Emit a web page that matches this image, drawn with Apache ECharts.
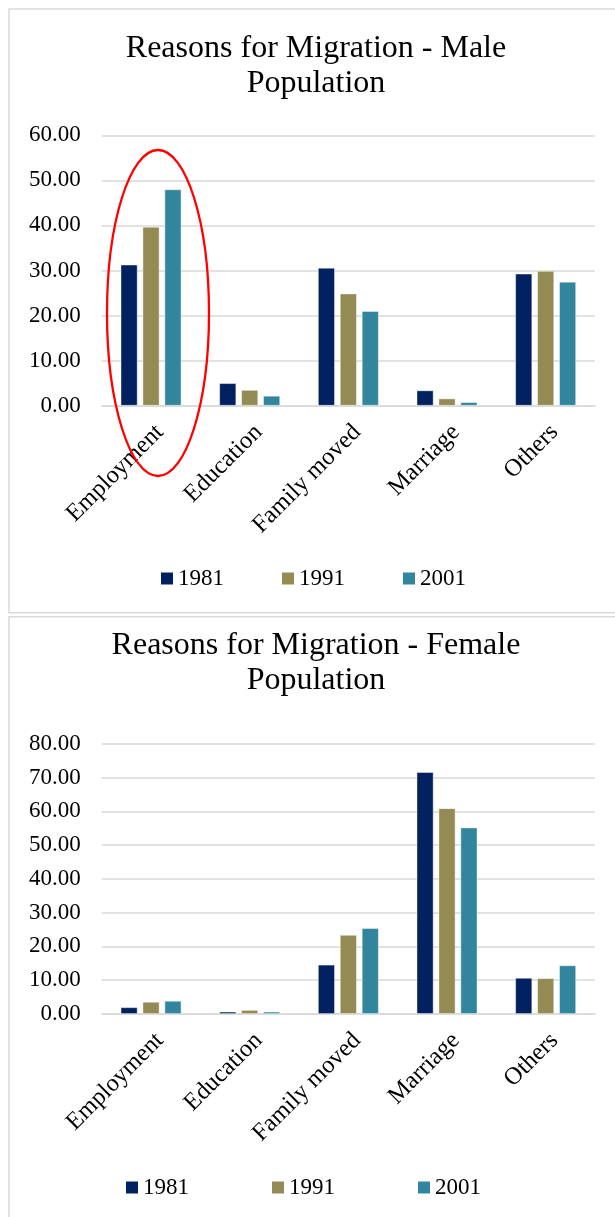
<!DOCTYPE html>
<html>
<head>
<meta charset="utf-8">
<script src="https://cdn.jsdelivr.net/npm/echarts@6/dist/echarts.min.js"></script>
<style>
html,body{margin:0;padding:0;background:#fff;overflow:hidden;}
#c{width:615px;height:1217px;}
</style>
</head>
<body>
<div id="c"></div>
<script>
const categories = ['Employment', 'Education', 'Family moved', 'Marriage', 'Others'];
const years = ['1981', '1991', '2001'];
const male1981 = [31.3, 5.0, 30.6, 3.4, 29.3];
const male1991 = [39.7, 3.5, 24.9, 1.6, 29.9];
const male2001 = [48.0, 2.2, 21.0, 0.8, 27.5];
const female1981 = [2.0, 0.7, 14.6, 71.6, 10.7];
const female1991 = [3.6, 1.2, 23.4, 60.9, 10.6];
const female2001 = [3.9, 0.7, 25.4, 55.2, 14.4];
const maleTicks = [0, 60, 10];   // min, max, interval
const femaleTicks = [0, 80, 10];

const colors = ['#002060', '#948A54', '#31859C'];
const FONT = "'Liberation Serif', 'Times New Roman', serif";

const chart = echarts.init(document.getElementById('c'), null, {renderer: 'canvas'});

function xAxis(gi) {
  return {
    type: 'category', gridIndex: gi, data: categories,
    axisLine: {lineStyle: {color: '#d9d9d9', width: 1.5}},
    axisTick: {show: false},
    axisLabel: {rotate: 45, margin: 14, verticalAlign: 'top', fontFamily: FONT, fontSize: 24.5, color: '#000', interval: 0}
  };
}
function yAxis(gi, t) {
  return {
    type: 'value', gridIndex: gi, min: t[0], max: t[1], interval: t[2],
    axisLine: {show: false}, axisTick: {show: false},
    splitLine: {lineStyle: {color: '#d9d9d9', width: 1.5}},
    axisLabel: {margin: 21, fontFamily: FONT, fontSize: 23, color: '#000', formatter: v => v.toFixed(2)}
  };
}
function bar(name, data, gi, ci) {
  return {
    type: 'bar', name: name, data: data, xAxisIndex: gi, yAxisIndex: gi,
    barWidth: 17, barGap: '29%',
    itemStyle: {color: colors[ci], borderColor: 'rgba(255,255,255,0.55)', borderWidth: 0.8},
    emphasis: {disabled: true}
  };
}
function legend(left, top, gap) {
  return {
    left: left, top: top, padding: 0, itemGap: gap, itemWidth: 12, itemHeight: 12,
    icon: 'rect', data: years,
    itemStyle: {borderWidth: 0},
    textStyle: {fontFamily: FONT, fontSize: 23, color: '#000'}
  };
}

chart.setOption({
  animation: false,
  title: [
    {text: 'Reasons for Migration - Male\nPopulation', left: 316, top: 31, textAlign: 'center', padding: 0,
     textStyle: {fontFamily: FONT, fontSize: 32, fontWeight: 'normal', color: '#000', lineHeight: 35}},
    {text: 'Reasons for Migration - Female\nPopulation', left: 316, top: 628, textAlign: 'center', padding: 0,
     textStyle: {fontFamily: FONT, fontSize: 32, fontWeight: 'normal', color: '#000', lineHeight: 35}}
  ],
  legend: [legend(161, 567, 58), legend(126, 1176, 83)],
  grid: [
    {left: 101.7, right: 20, top: 135.3, height: 270.4},
    {left: 101.7, right: 20, top: 743.7, height: 270.3}
  ],
  xAxis: [xAxis(0), xAxis(1)],
  yAxis: [yAxis(0, maleTicks), yAxis(1, femaleTicks)],
  series: [
    bar(years[0], male1981, 0, 0), bar(years[1], male1991, 0, 1), bar(years[2], male2001, 0, 2),
    bar(years[0], female1981, 1, 0), bar(years[1], female1991, 1, 1), bar(years[2], female2001, 1, 2)
  ],
  graphic: [
    {type: 'rect', shape: {x: 9, y: 9, width: 700, height: 603.7}, style: {fill: 'none', stroke: '#d9d9d9', lineWidth: 1.5}, silent: true, z: 0},
    {type: 'rect', shape: {x: 9, y: 616.7, width: 700, height: 700}, style: {fill: 'none', stroke: '#d9d9d9', lineWidth: 1.5}, silent: true, z: 0},
    {type: 'ellipse', shape: {cx: 158, cy: 313, rx: 51, ry: 163}, style: {fill: 'none', stroke: '#ff0000', lineWidth: 2.3}, silent: true, z: 100}
  ]
});
</script>
</body>
</html>
